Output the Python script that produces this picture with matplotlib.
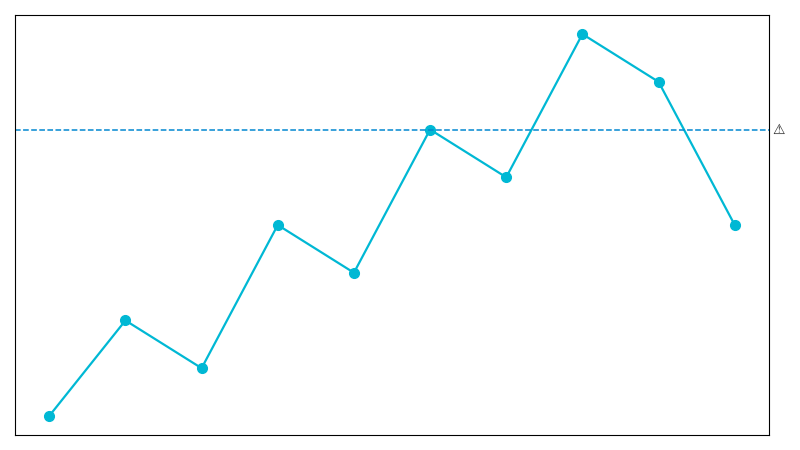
import matplotlib
matplotlib.use("Agg")
import matplotlib.pyplot as plt

x_values = [0, 1, 2, 3, 4, 5, 6, 7, 8, 9]
y_values = [1, 3, 2, 5, 4, 7, 6, 9, 8, 5]
threshold = 7
threshold_label = "⚠"

fig = plt.figure(figsize=(8, 4.5), dpi=100)
ax = fig.add_axes([15/800, 1-435/450, 754/800, 420/450])
ax.plot(x_values, y_values, color="#00b8d4", linewidth=1.6, marker="o", markersize=7)
ax.axhline(threshold, color="#0288d1", linewidth=1.1, linestyle=(0, (3.7, 1.6)))
ax.set_xlim(-0.45, 9.45)
ax.set_ylim(0.6, 9.4)
ax.set_xticks([])
ax.set_yticks([])
ax.text(1.005, threshold, threshold_label, transform=ax.get_yaxis_transform(), va="center", ha="left", fontsize=10, color="#222222", family="DejaVu Sans")
fig.savefig("out.png", dpi=100)
